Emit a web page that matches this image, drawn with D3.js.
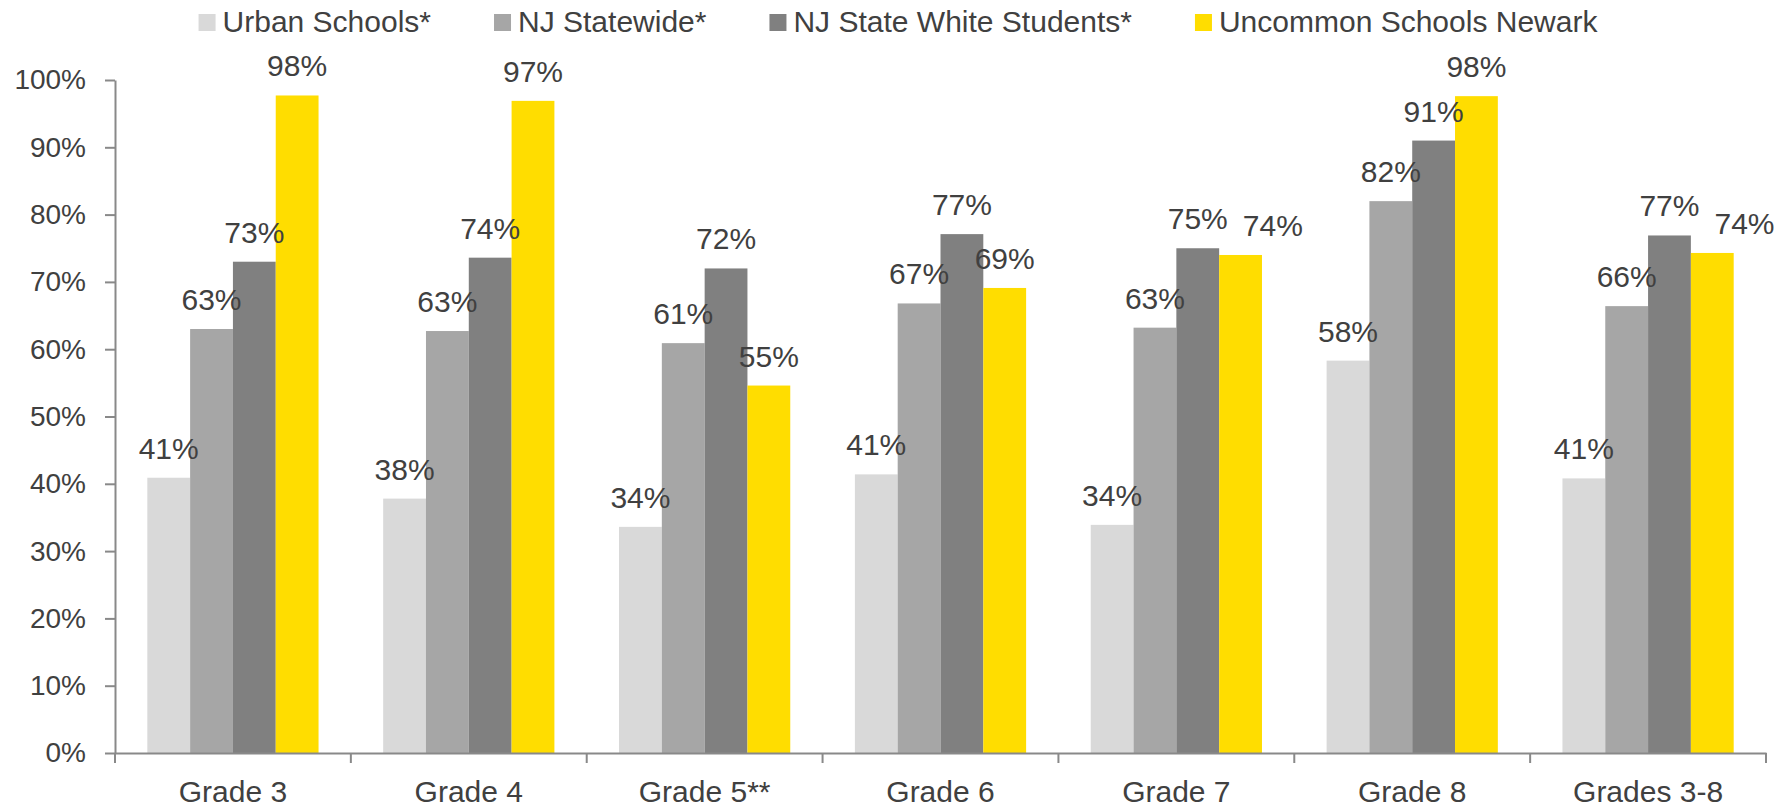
<!DOCTYPE html>
<html>
<head>
<meta charset="utf-8">
<script src="https://cdn.jsdelivr.net/npm/d3@7"></script>
<style>
  html, body { margin: 0; padding: 0; background: #ffffff; }
  svg { display: block; }
  text { font-family: "Liberation Sans", Arial, sans-serif; fill: #404040; }
</style>
</head>
<body>
<svg id="chart" width="1785" height="809"></svg>
<script>
// ---- data ----
const categories = ["Grade 3", "Grade 4", "Grade 5**", "Grade 6", "Grade 7", "Grade 8", "Grades 3-8"];
const seriesNames = ["Urban Schools*", "NJ Statewide*", "NJ State White Students*", "Uncommon Schools Newark"];
const urbanSchools   = [0.409, 0.378, 0.336, 0.414, 0.339, 0.583, 0.408];
const njStatewide    = [0.630, 0.627, 0.609, 0.668, 0.632, 0.820, 0.664];
const njWhite        = [0.730, 0.736, 0.720, 0.771, 0.750, 0.910, 0.769];
const uncommonNewark = [0.977, 0.969, 0.546, 0.691, 0.740, 0.976, 0.743];
const yTicks = [0, 0.1, 0.2, 0.3, 0.4, 0.5, 0.6, 0.7, 0.8, 0.9, 1.0];
const yTickLabels = ["0%", "10%", "20%", "30%", "40%", "50%", "60%", "70%", "80%", "90%", "100%"];
const seriesColors = ["#D9D9D9", "#A6A6A6", "#808080", "#FFDD00"];

const seriesValues = [urbanSchools, njStatewide, njWhite, uncommonNewark];

(function () {
  const svg = d3.select("#chart");
  const plotLeft = 115, plotRight = 1766, plotTop = 80, plotBottom = 753;
  const axisColor = "#898989";

  const x0 = d3.scaleBand().domain(categories).range([plotLeft, plotRight]).paddingInner(0).paddingOuter(0);
  const groupPad = x0.bandwidth() * 0.137;
  const x1 = d3.scaleBand().domain(seriesNames).range([groupPad, x0.bandwidth() - groupPad]).padding(0);
  const y = d3.scaleLinear().domain([0, 1]).range([plotBottom, plotTop]);
  const color = d3.scaleOrdinal().domain(seriesNames).range(seriesColors);
  const fmt = d3.format(".0%");

  const rows = [];
  categories.forEach((c, i) => {
    seriesNames.forEach((s, j) => rows.push({ cat: c, series: s, j: j, value: seriesValues[j][i] }));
  });

  // bars
  svg.append("g").selectAll("rect").data(rows).join("rect")
    .attr("x", d => x0(d.cat) + x1(d.series))
    .attr("y", d => y(d.value))
    .attr("width", x1.bandwidth())
    .attr("height", d => y(0) - y(d.value))
    .attr("fill", d => color(d.series));

  // data labels
  const labels = svg.append("g").selectAll("text").data(rows).join("text")
    .attr("x", d => x0(d.cat) + x1(d.series) + x1.bandwidth() / 2)
    .attr("y", d => y(d.value) - 19)
    .attr("text-anchor", "middle")
    .style("font-size", "30px")
    .text(d => fmt(d.value));

  // simple collision avoidance: shift a label right if it collides with the previous one in its group
  const nodes = labels.nodes();
  nodes.forEach((n, k) => {
    const d = rows[k];
    if (d.j === 0) return;
    const prev = nodes[k - 1];
    const a = prev.getBBox(), b = n.getBBox();
    const vOverlap = Math.abs(+prev.getAttribute("y") - +n.getAttribute("y")) < 26;
    if (vOverlap && b.x < a.x + a.width) {
      const shift = a.x + a.width + 15 - b.x;
      n.setAttribute("x", +n.getAttribute("x") + shift);
    }
  });

  // y axis
  const yAxis = svg.append("g").attr("transform", `translate(${plotLeft},0)`)
    .call(d3.axisLeft(y).tickValues(yTicks).tickFormat((d, i) => yTickLabels[i]).tickSize(10).tickSizeOuter(0).tickPadding(19));
  yAxis.select(".domain").attr("stroke", axisColor).attr("stroke-width", 2);
  yAxis.selectAll(".tick line").attr("stroke", axisColor).attr("stroke-width", 2);
  yAxis.selectAll(".tick text").style("font-size", "28px").attr("fill", "#404040")
    .style("font-family", '"Liberation Sans", Arial, sans-serif');

  // x axis
  const xAxis = svg.append("g").attr("transform", `translate(0,${plotBottom})`)
    .call(d3.axisBottom(x0).tickSize(0).tickSizeOuter(0).tickPadding(28));
  xAxis.select(".domain").attr("stroke", axisColor).attr("stroke-width", 2);
  xAxis.selectAll(".tick text").style("font-size", "30px").attr("fill", "#404040")
    .style("font-family", '"Liberation Sans", Arial, sans-serif');
  const bounds = categories.map(c => x0(c)).concat([x0(categories[categories.length - 1]) + x0.bandwidth()]);
  xAxis.selectAll("line.bound").data(bounds).join("line").attr("class", "bound")
    .attr("x1", d => d).attr("x2", d => d).attr("y1", 0).attr("y2", 10)
    .attr("stroke", axisColor).attr("stroke-width", 2);

  // legend
  const legend = svg.append("g");
  const items = legend.selectAll("g").data(seriesNames).join("g");
  items.append("rect").attr("width", 17).attr("height", 17).attr("y", 14)
    .attr("fill", d => color(d));
  items.append("text").attr("x", 24).attr("y", 32).style("font-size", "30px").text(d => d);
  let cx = 0;
  items.each(function () {
    const g = d3.select(this);
    g.attr("transform", `translate(${cx},0)`);
    cx += 24 + g.select("text").node().getComputedTextLength() + 63;
  });
  const totalW = cx - 63;
  legend.attr("transform", `translate(${898 - totalW / 2},0)`);
})();
</script>
</body>
</html>
